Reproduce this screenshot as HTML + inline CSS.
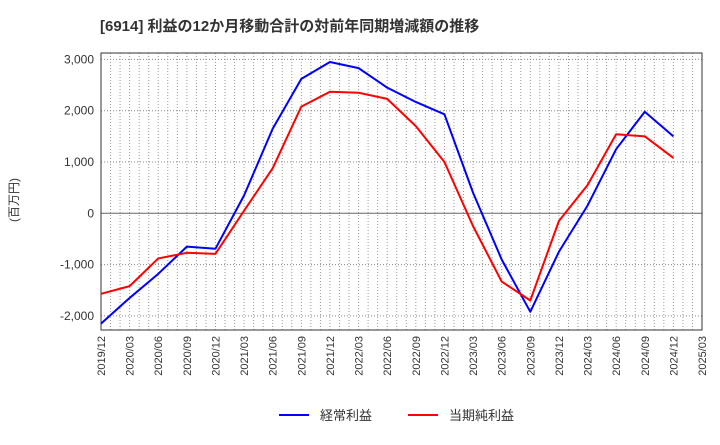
<!DOCTYPE html>
<html><head><meta charset="utf-8"><style>
body{margin:0;background:#fff;font-family:"Liberation Sans","Noto Sans CJK JP",sans-serif;}
</style></head><body>
<svg id="c" width="720" height="440" xmlns="http://www.w3.org/2000/svg">
<text x="100" y="31" font-size="15" font-weight="bold" fill="#333" font-family="Liberation Sans,Noto Sans CJK JP,sans-serif">[6914]  利益の12か月移動合計の対前年同期増減額の推移</text>
<text transform="translate(18,200) rotate(-90)" font-size="12" fill="#333" text-anchor="middle" font-family="Liberation Sans,Noto Sans CJK JP,sans-serif">(百万円)</text>
<g id="grid"></g><g id="axes"></g><g id="series"></g>
<g>
<line x1="279" y1="415" x2="309" y2="415" stroke="#0000ff" stroke-width="2"/>
<text x="320" y="420" font-size="13" fill="#333" font-family="Liberation Sans,Noto Sans CJK JP,sans-serif">経常利益</text>
<line x1="408" y1="415" x2="438" y2="415" stroke="#ff0000" stroke-width="2"/>
<text x="449" y="420" font-size="13" fill="#333" font-family="Liberation Sans,Noto Sans CJK JP,sans-serif">当期純利益</text>
</g>
</svg>
<script>
const categories=["2019/12","2020/03","2020/06","2020/09","2020/12","2021/03","2021/06","2021/09","2021/12","2022/03","2022/06","2022/09","2022/12","2023/03","2023/06","2023/09","2023/12","2024/03","2024/06","2024/09","2024/12","2025/03"];
const keijo=[-2150,-1650,-1180,-650,-690,350,1650,2620,2950,2830,2450,2170,1930,400,-900,-1920,-750,150,1250,1980,1500];
const junrieki=[-1570,-1420,-880,-770,-790,50,880,2080,2370,2350,2230,1700,1000,-250,-1330,-1700,-150,550,1540,1500,1080];
const yTicks=[-2000,-1000,0,1000,2000,3000];
const yTickLabels=["-2,000","-1,000","0","1,000","2,000","3,000"];
const NS="http://www.w3.org/2000/svg";
const L=101,R=702,T=53,B=330;
const x=i=>L+(R-L)*i/(categories.length-1);
const y=v=>213.3-v*0.0513;
function mk(tag,attrs,parent){const e=document.createElementNS(NS,tag);for(const k in attrs)e.setAttribute(k,attrs[k]);parent.appendChild(e);return e;}
const grid=document.getElementById('grid'),axes=document.getElementById('axes'),ser=document.getElementById('series');
for(let m=1;m<(categories.length-1)*3;m++){const xx=L+(R-L)*m/((categories.length-1)*3);
const g=mk('line',{x1:xx,x2:xx,y1:T,y2:B,stroke:'#999','stroke-dasharray':'1,2','stroke-width':1},grid);

}
yTicks.forEach((v,i)=>{const yy=y(v);
const g=mk('line',{x1:L,x2:R,y1:yy,y2:yy,stroke:v===0?'#666':'#888','stroke-dasharray':v===0?'':'1,2','stroke-width':1},grid);


const t=mk('text',{x:L-7,y:yy+4,'font-size':12,fill:'#333','text-anchor':'end'},axes);t.textContent=yTickLabels[i];

});
const fr=mk('rect',{x:L,y:T,width:R-L,height:B-T,fill:'none',stroke:'#333','stroke-width':1},axes);


categories.forEach((c,i)=>{const t=mk('text',{transform:`translate(${x(i)+4},${B+6}) rotate(-90)`,'font-size':11,fill:'#333','text-anchor':'end'},axes);t.textContent=c;

});
function line(data,color,name){const p=mk('polyline',{points:data.map((v,i)=>x(i)+','+y(v)).join(' '),fill:'none',stroke:color,'stroke-width':2,'stroke-linejoin':'round'},ser);

}
line(keijo,'#0000ff','keijo-line');
line(junrieki,'#ff0000','junrieki-line');
</script>
</body></html>
